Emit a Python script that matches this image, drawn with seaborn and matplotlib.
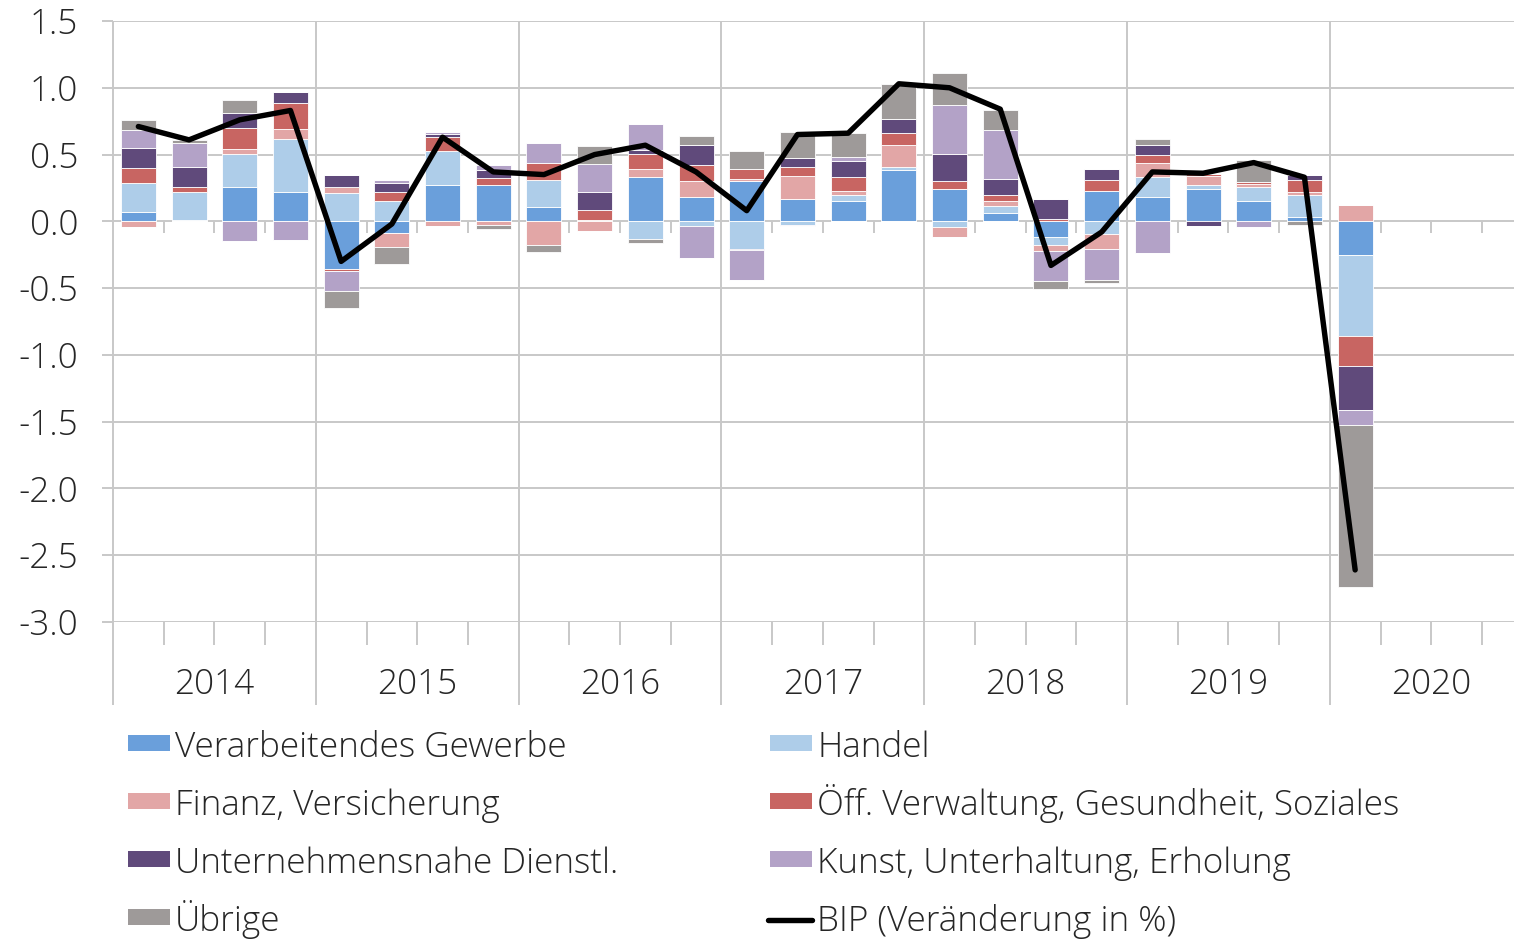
import numpy as np
import pandas as pd
import matplotlib
matplotlib.use('Agg')
import matplotlib.pyplot as plt
import matplotlib.transforms as mtransforms
from matplotlib.patches import Rectangle
from matplotlib.lines import Line2D
import seaborn as sns

# quarters 2014Q1 .. 2020Q1
quarters = [f"{y}Q{q}" for y in range(2014, 2020) for q in range(1, 5)] + ["2020Q1"]
years = ["2014", "2015", "2016", "2017", "2018", "2019", "2020"]

verarbeitendes = [0.07, 0.01, 0.255, 0.22, -0.355, -0.085, 0.275, 0.27, 0.11, 0.0, 0.335, 0.18,
                  0.305, 0.17, 0.155, 0.385, 0.24, 0.065, -0.12, 0.23, 0.185, 0.245, 0.15, 0.03, -0.25]
handel = [0.22, 0.21, 0.25, 0.395, 0.21, 0.155, 0.255, 0.0, 0.20, 0.01, -0.135, -0.035,
          -0.205, -0.03, 0.045, 0.02, -0.04, 0.05, -0.06, -0.095, 0.15, 0.025, 0.11, 0.165, -0.605]
finanz = [-0.045, 0.0, 0.037, 0.075, 0.05, -0.105, -0.035, -0.03, -0.175, -0.07, 0.055, 0.125,
          0.015, 0.17, 0.03, 0.17, -0.08, 0.04, -0.045, -0.11, 0.10, 0.07, 0.017, 0.025, 0.125]
oeff = [0.11, 0.037, 0.155, 0.195, -0.02, 0.062, 0.10, 0.055, 0.13, 0.075, 0.115, 0.117,
        0.072, 0.065, 0.10, 0.09, 0.062, 0.045, 0.015, 0.08, 0.062, 0.017, 0.015, 0.092, -0.23]
unternehmen = [0.15, 0.147, 0.117, 0.085, 0.087, 0.072, 0.022, 0.057, 0.0, 0.137, 0.03, 0.152,
               -0.007, 0.072, 0.125, 0.10, 0.20, 0.117, 0.152, 0.085, 0.075, -0.035, 0.0, 0.037, -0.33]
kunst = [0.135, 0.185, -0.15, -0.14, -0.147, 0.02, 0.015, 0.042, 0.145, 0.205, 0.195, -0.24,
         -0.23, -0.007, 0.025, 0.0, 0.37, 0.365, -0.225, -0.235, -0.24, 0.0, -0.04, 0.0, -0.11]
uebrige = [0.07, 0.018, 0.095, 0.0, -0.127, -0.13, 0.0, -0.03, -0.057, 0.137, -0.025, 0.067,
           0.132, 0.195, 0.18, 0.26, 0.242, 0.155, -0.057, -0.025, 0.042, 0.0, 0.17, -0.03, -1.21]
bip = [0.71, 0.61, 0.76, 0.83, -0.30, -0.02, 0.63, 0.37, 0.35, 0.50, 0.57, 0.37,
       0.08, 0.65, 0.66, 1.03, 1.00, 0.84, -0.33, -0.08, 0.37, 0.36, 0.44, 0.33, -2.61]

series_names = ["Verarbeitendes Gewerbe", "Handel", "Finanz, Versicherung",
                "Öff. Verwaltung, Gesundheit, Soziales", "Unternehmensnahe Dienstl.",
                "Kunst, Unterhaltung, Erholung", "Übrige"]
series_values = [verarbeitendes, handel, finanz, oeff, unternehmen, kunst, uebrige]
colors = ["#6A9FDB", "#AECDE9", "#E2A6A6", "#C86562", "#604A7B", "#B3A2C7", "#9E9A99"]
bip_label = "BIP (Veränderung in %)"

sns.set_theme(style="white")
plt.rcParams['font.family'] = ['Open Sans', 'DejaVu Sans']
plt.rcParams['font.weight'] = 'light'
plt.rcParams['axes.unicode_minus'] = False
FS = 25.3
GRID = "#C8C8C8"
W, H = 1514, 939

fig = plt.figure(figsize=(W / 100, H / 100), dpi=100)
ax = fig.add_axes([113 / W, 1 - 622 / H, 1 - 113 / W, 601 / H])

x = np.arange(len(quarters))
pos_bottom = np.zeros(len(x))
neg_bottom = np.zeros(len(x))
for name, vals, col in zip(series_names, series_values, colors):
    v = np.array(vals)
    pos = np.where(v > 0, v, 0)
    neg = np.where(v < 0, v, 0)
    ax.bar(x, pos, bottom=pos_bottom, width=0.69, color=col, edgecolor="white", linewidth=0.6, zorder=3)
    ax.bar(x, neg, bottom=neg_bottom, width=0.69, color=col, edgecolor="white", linewidth=0.6, zorder=3)
    pos_bottom += pos
    neg_bottom += neg

df_bip = pd.DataFrame({"x": x, "bip": bip})
sns.lineplot(data=df_bip, x="x", y="bip", color="black", linewidth=3.9, ax=ax, zorder=5)

yt = np.arange(-3.0, 1.51, 0.5)
ax.set_ylim(-3.0, 1.5)
ax.set_xlim(-0.5, -0.5 + (W - 113) / 50.7)
ax.set_yticks(yt)
ax.set_yticklabels([f"{t:.1f}" for t in yt], fontsize=FS)
ax.yaxis.grid(True, color=GRID, linewidth=1.4, zorder=0)
ax.tick_params(axis="y", length=8, width=1.4, color=GRID, pad=17, left=True)
ax.set_xticks([])
ax.set_xlabel("")
ax.set_ylabel("")
for s in ax.spines.values():
    s.set_visible(False)

trans = mtransforms.blended_transform_factory(ax.transData, ax.transAxes)
# year separators (incl. left axis line) reaching into the label area
year_bounds = np.arange(-0.5, 28, 4)
ax.vlines(year_bounds, -0.138, 1.0, transform=trans, color=GRID, linewidth=1.4, clip_on=False, zorder=1)
# quarter ticks at the zero line and at the bottom
qb = [b for b in np.arange(0.5, 28, 1) if (b + 0.5) % 4 != 0]
ax.vlines(qb, -0.087, 0, color=GRID, linewidth=1.4, zorder=2)
ax.vlines(qb, -0.038, 0, transform=trans, color=GRID, linewidth=1.4, clip_on=False, zorder=1)
for k, yr in enumerate(years):
    ax.text(1.5 + 4 * k, -0.104, yr, transform=trans, ha="center", va="center", fontsize=FS, clip_on=False)

# legend, two columns, drawn in pixel positions
legend_cols = [(128, [0, 2, 4, 6]), (770, [1, 3, 5, None])]
for x0, idxs in legend_cols:
    for r, i in enumerate(idxs):
        yc = 743 + 58 * r
        if i is None:
            fig.add_artist(Line2D([(x0 - 2) / W, (x0 + 42) / W], [1 - (yc + 3) / H] * 2,
                                  color="black", linewidth=3.9))
            label = bip_label
        else:
            fig.add_artist(Rectangle((x0 / W, 1 - (yc + 8) / H), 42 / W, 16 / H,
                                     facecolor=colors[i], edgecolor="none"))
            label = series_names[i]
        fig.text((x0 + 47) / W, 1 - (yc + 14) / H, label, fontsize=FS, ha="left", va="baseline")

fig.savefig("out.png", dpi=100)
